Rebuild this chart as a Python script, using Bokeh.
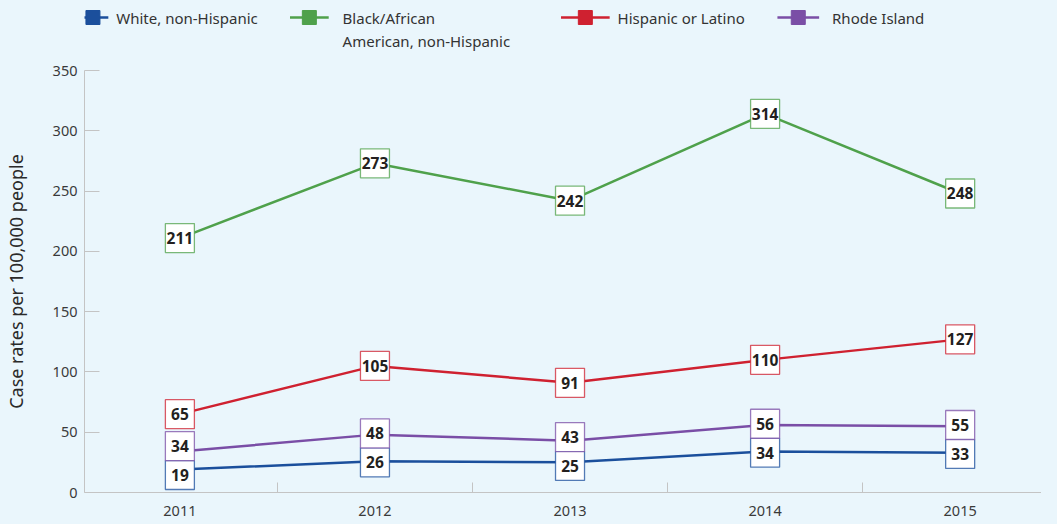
from bokeh.plotting import figure
from bokeh.layouts import column
from bokeh.models import ColumnDataSource, FixedTicker, Range1d
from bokeh.core.properties import value
from bokeh.embed import file_html
from bokeh.resources import INLINE

years = [2011, 2012, 2013, 2014, 2015]
white = [19, 26, 25, 34, 33]
black = [211, 273, 242, 314, 248]
hispanic = [65, 105, 91, 110, 127]
rhode_island = [34, 48, 43, 56, 55]

names = [["White, non-Hispanic"], ["Black/African", "American, non-Hispanic"],
         ["Hispanic or Latino"], ["Rhode Island"]]
colors = ["#1b4f9c", "#4fa14b", "#cf2130", "#7a4ea6"]
series = [white, black, hispanic, rhode_island]

BG = "#eaf6fc"
FONT = "Noto Sans"
W = 1041
LEFT = 77

# ---------------- legend strip (page-pixel coordinates) ----------------
LH = 56
lg = figure(width=W, height=LH, output_backend="svg", toolbar_location=None,
            x_range=Range1d(8 + LEFT, 8 + W), y_range=Range1d(LH, 0),
            x_axis_type=None, y_axis_type=None,
            min_border_left=LEFT, min_border_right=0, min_border_top=0, min_border_bottom=0,
            background_fill_color=BG, border_fill_color=BG, outline_line_color=None)
lg.grid.visible = False
row1, row2 = 17, 40
line_spans = [(78, 109), (292, 331), (565, 614), (783, 825)]
text_x = [117, 345, 622, 838]
for (l, r), tx, c, lab in zip(line_spans, text_x, colors, names):
    lg.segment(x0=[l], y0=[row1], x1=[r], y1=[row1], line_color=c, line_width=2.5)
    lg.scatter(x=[(l + r) / 2.0], y=[row1], marker="square", size=14,
               fill_color=c, line_color=c)
    ys = [row1, row2][:len(lab)]
    lg.text(x=[tx] * len(lab), y=ys, text=lab, text_font=value(FONT),
            text_font_size="15px", text_color="#333333",
            text_baseline="middle", text_align="left")

# ---------------- main chart ----------------
p = figure(width=W, height=468, output_backend="svg", toolbar_location=None,
           x_range=Range1d(2010.511, 2015.417), y_range=Range1d(0, 350),
           min_border_left=LEFT, min_border_top=14, min_border_bottom=32, min_border_right=0,
           background_fill_color=BG, border_fill_color=BG, outline_line_color=None)
p.grid.visible = False

p.yaxis.ticker = FixedTicker(ticks=list(range(0, 351, 50)))
p.yaxis.major_tick_in = 15
p.yaxis.major_tick_out = 0
p.yaxis.minor_tick_line_color = None
p.yaxis.axis_line_color = "#c4c4c4"
p.yaxis.major_tick_line_color = "#c4c4c4"
p.yaxis.major_label_text_font = FONT
p.yaxis.major_label_text_font_size = "14.5px"
p.yaxis.major_label_text_color = "#3a3a3a"
p.yaxis.major_label_standoff = 7
p.yaxis.axis_label = "Case rates per 100,000 people"
p.yaxis.axis_label_text_font = FONT
p.yaxis.axis_label_text_font_size = "18px"
p.yaxis.axis_label_text_font_style = "normal"
p.yaxis.axis_label_text_color = "#2a2a2a"
p.yaxis.axis_label_standoff = 22

mids = [y + 0.5 for y in years[:-1]]
p.xaxis.ticker = FixedTicker(ticks=years, minor_ticks=mids)
p.xaxis.major_tick_in = 0
p.xaxis.major_tick_out = 0
p.xaxis.minor_tick_in = 10
p.xaxis.minor_tick_out = 0
p.xaxis.minor_tick_line_color = "#c4c4c4"
p.xaxis.axis_line_color = "#c4c4c4"
p.xaxis.major_label_text_font = FONT
p.xaxis.major_label_text_font_size = "14.5px"
p.xaxis.major_label_text_color = "#3a3a3a"
p.xaxis.major_label_standoff = 13

for vals, c in zip(series, colors):
    p.line(years, vals, line_color=c, line_width=2.5)

# label box positions: push apart overlapping boxes (box ~24 data units tall)
box_h = 24.0
label_y = [list(map(float, s)) for s in series]
for i in range(len(years)):
    a, b = label_y[0][i], label_y[3][i]
    if b - a < box_h:
        mid = (a + b) / 2.0
        label_y[0][i] = mid - box_h / 2.0
        label_y[3][i] = mid + box_h / 2.0

for vals, ly, c in zip(series, label_y, colors):
    src = ColumnDataSource(dict(x=years, y=ly, t=[str(v) for v in vals]))
    p.rect("x", "y", width=29, height=29, width_units="screen", height_units="screen",
           source=src, fill_color="white", line_color=c, line_alpha=0.75, line_width=1.3)
    p.text("x", "y", text="t", source=src, text_align="center", text_baseline="middle",
           text_font=value(FONT), text_font_style="bold", text_font_size="15.5px",
           text_color="#231f20")

layout = column(lg, p, spacing=0)
html = file_html(layout, INLINE)
html = html.replace("<body>", '<body style="background:%s">' % BG)
open("out.html", "w").write(html)
